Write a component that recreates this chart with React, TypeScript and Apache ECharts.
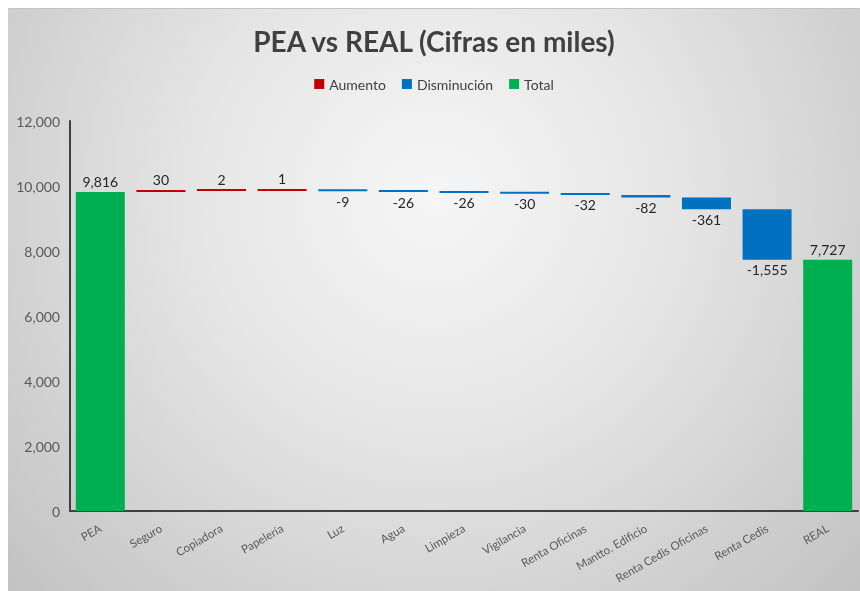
import React, { useEffect, useRef } from "react";
import * as echarts from "echarts";

const categories = [
  "PEA",
  "Seguro",
  "Copiadora",
  "Papelería",
  "Luz",
  "Agua",
  "Limpieza",
  "Vigilancia",
  "Renta Oficinas",
  "Mantto. Edificio",
  "Renta Cedis Oficinas",
  "Renta Cedis",
  "REAL",
];

// kind of each step: total / increase / decrease
const kinds = ["T", "I", "I", "I", "D", "D", "D", "D", "D", "D", "D", "D", "T"];
// signed values
const values = [9816, 30, 2, 1, -9, -26, -26, -30, -32, -82, -361, -1555, 7727];

const yTicks = [0, 2000, 4000, 6000, 8000, 10000, 12000];

const fmt = (v: number) => v.toLocaleString("en-US");

export default function App() {
  const ref = useRef<HTMLDivElement>(null);

  useEffect(() => {
    if (!ref.current) return;
    const chart = echarts.init(ref.current, null, { renderer: "svg" });

    const base: (number | string)[] = [];
    const inc: (number | string)[] = [];
    const dec: (number | string)[] = [];
    const tot: (number | string)[] = [];
    let running = 0;
    values.forEach((v, i) => {
      const k = kinds[i];
      if (k === "T") {
        base.push(0);
        tot.push(v);
        inc.push("-");
        dec.push("-");
        running = v;
      } else if (k === "I") {
        base.push(running);
        inc.push(v);
        dec.push("-");
        tot.push("-");
        running += v;
      } else {
        running += v;
        base.push(running);
        dec.push(-v);
        inc.push("-");
        tot.push("-");
      }
    });

    const font = "Lato, 'Open Sans', sans-serif";
    const labelCommon = {
      show: true,
      fontFamily: font,
      fontSize: 14,
      color: "#262626",
      distance: 3,
    };

    chart.setOption({
      animation: false,
      backgroundColor: "transparent",
      title: {
        text: "PEA vs REAL (Cifras en miles)",
        left: "center",
        top: 13,
        textStyle: {
          fontFamily: font,
          fontWeight: "bold",
          fontSize: 28,
          color: "#404040",
        },
      },
      legend: {
        data: ["Aumento", "Disminución", "Total"],
        top: 63,
        left: "center",
        icon: "rect",
        itemWidth: 10,
        itemHeight: 10,
        itemGap: 16,
        textStyle: { fontFamily: font, fontSize: 14, color: "#404040" },
      },
      grid: { left: 62, top: 112, width: 788, height: 390, containLabel: false },
      xAxis: {
        type: "category",
        data: categories,
        axisLine: { show: true, lineStyle: { color: "#404040", width: 2 } },
        axisTick: { show: false },
        axisLabel: {
          rotate: 30,
          interval: 0,
          margin: 16,
          fontFamily: font,
          fontSize: 11.5,
          color: "#595959",
        },
      },
      yAxis: {
        type: "value",
        min: yTicks[0],
        max: yTicks[yTicks.length - 1],
        interval: 2000,
        axisLine: { show: true, lineStyle: { color: "#404040", width: 2 } },
        axisTick: { show: false },
        splitLine: { show: false },
        axisLabel: {
          margin: 10,
          fontFamily: font,
          fontSize: 14,
          color: "#595959",
          formatter: (v: number) => fmt(v),
        },
      },
      series: [
        {
          name: "base",
          type: "bar",
          stack: "w",
          data: base,
          barWidth: 49,
          itemStyle: { color: "transparent" },
          emphasis: { disabled: true },
          silent: true,
        },
        {
          name: "Aumento",
          type: "bar",
          stack: "w",
          data: inc,
          barWidth: 49,
          barMinHeight: 2,
          itemStyle: { color: "#C00000" },
          label: { ...labelCommon, position: "top", formatter: (p: any) => fmt(p.value) },
        },
        {
          name: "Disminución",
          type: "bar",
          stack: "w",
          data: dec,
          barWidth: 49,
          barMinHeight: 2,
          itemStyle: { color: "#0070C0" },
          label: { ...labelCommon, position: "bottom", formatter: (p: any) => fmt(-p.value) },
        },
        {
          name: "Total",
          type: "bar",
          stack: "w",
          data: tot,
          barWidth: 49,
          itemStyle: { color: "#00B050" },
          label: { ...labelCommon, position: "top", formatter: (p: any) => fmt(p.value) },
        },
      ],
    });

    return () => chart.dispose();
  }, []);

  return (
    <div
      style={{
        position: "fixed",
        left: 8,
        top: 8,
        width: 852,
        height: 583,
        background:
          "radial-gradient(circle at 50% 32%, #f6f6f6 0%, #e6e6e6 40%, #c2c2c2 100%)",
        borderTop: "1px solid #c4c4c4",
        boxSizing: "border-box",
      }}
    >
      <div ref={ref} style={{ width: 852, height: 582 }} />
    </div>
  );
}
